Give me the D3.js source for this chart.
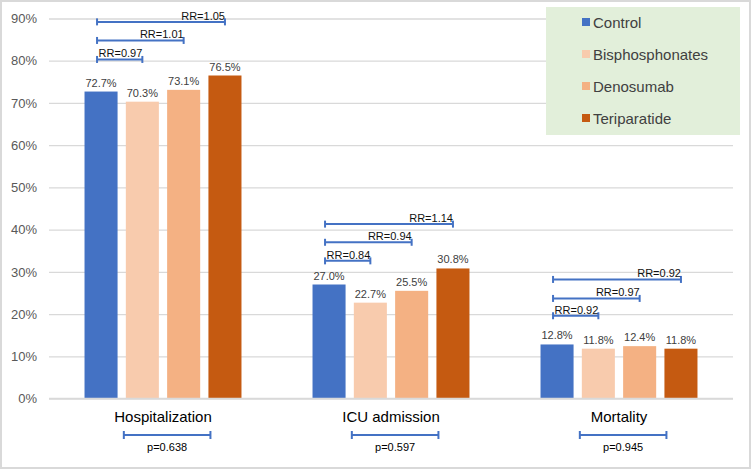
<!DOCTYPE html>
<html>
<head>
<meta charset="utf-8">
<script src="https://cdn.jsdelivr.net/npm/d3@7"></script>
<style>
  html, body { margin: 0; padding: 0; background: #fff; }
  svg { display: block; font-family: "Liberation Sans", Arial, sans-serif; }
</style>
</head>
<body>
<svg id="chart" width="752" height="470"></svg>
<script>
// ---- data ----
const categories = ["Hospitalization", "ICU admission", "Mortality"];
const seriesNames = ["Control", "Bisphosphonates", "Denosumab", "Teriparatide"];
const controlValues = [72.7, 27.0, 12.8];
const bisphosphonatesValues = [70.3, 22.7, 11.8];
const denosumabValues = [73.1, 25.5, 12.4];
const teriparatideValues = [76.5, 30.8, 11.8];
const yTicks = [0, 10, 20, 30, 40, 50, 60, 70, 80, 90];
const seriesColors = ["#4472C4", "#F8CBAD", "#F4B183", "#C55A11"];
// RR brackets: comparison of Control vs series 1,2,3 within each category
const rrLabels = [
  ["RR=0.97", "RR=1.01", "RR=1.05"],
  ["RR=0.84", "RR=0.94", "RR=1.14"],
  ["RR=0.92", "RR=0.97", "RR=0.92"]
];
const rrLevels = [
  [80.3, 84.8, 89.2],
  [32.6, 37.0, 41.3],
  [19.6, 23.7, 28.2]
];
const pValues = ["p=0.638", "p=0.597", "p=0.945"];

const seriesValues = [controlValues, bisphosphonatesValues, denosumabValues, teriparatideValues];

// ---- layout ----
const W = 752, H = 470;
const plot = { left: 49, right: 733, top: 18.5, bottom: 398.5 };
const svg = d3.select("#chart");

// outer border
svg.append("rect").attr("x", 1).attr("y", 1).attr("width", W - 3).attr("height", H - 3)
  .attr("fill", "#fff").attr("stroke", "#d9d9d9").attr("stroke-width", 2);

const x = d3.scaleBand().domain(categories).range([plot.left, plot.right]).paddingInner(0).paddingOuter(0);
const xi = d3.scaleBand().domain(d3.range(seriesNames.length)).range([0, x.bandwidth()])
  .paddingInner(0.2).paddingOuter(0.86);
const y = d3.scaleLinear().domain([0, 90]).range([plot.bottom, plot.top]);

// gridlines + y axis
const yAxis = d3.axisLeft(y).tickValues(yTicks).tickFormat(d => d + "%")
  .tickSize(-(plot.right - plot.left)).tickPadding(12);
const ya = svg.append("g").attr("transform", `translate(${plot.left},0)`).call(yAxis);
ya.select(".domain").remove();
ya.selectAll(".tick line").attr("stroke", "#d9d9d9").attr("stroke-width", 1.3);
ya.selectAll(".tick text").attr("fill", "#595959").attr("font-size", 13).attr("x", -12)
  .attr("font-family", "Liberation Sans, Arial, sans-serif");

// legend (drawn over gridlines)
const legend = svg.append("g");
legend.append("rect").attr("x", 546).attr("y", 7).attr("width", 194).attr("height", 128).attr("fill", "#E2EFDA");
seriesNames.forEach((name, i) => {
  const cy = 22 + i * 32;
  legend.append("rect").attr("x", 582).attr("y", cy - 4).attr("width", 8).attr("height", 8).attr("fill", seriesColors[i]);
  legend.append("text").attr("x", 593).attr("y", cy + 5.5).attr("font-size", 15).attr("fill", "#404040").text(name);
});

// bars
const groups = svg.append("g").selectAll("g").data(categories).join("g")
  .attr("transform", d => `translate(${x(d)},0)`);
seriesNames.forEach((name, s) => {
  groups.append("rect")
    .attr("x", xi(s)).attr("width", xi.bandwidth())
    .attr("y", (d, c) => y(seriesValues[s][c]))
    .attr("height", (d, c) => y(0) - y(seriesValues[s][c]))
    .attr("fill", seriesColors[s]);
  groups.append("text")
    .attr("x", xi(s) + xi.bandwidth() / 2)
    .attr("y", (d, c) => y(seriesValues[s][c]) - 5)
    .attr("text-anchor", "middle").attr("font-size", 11).attr("fill", "#404040")
    .text((d, c) => d3.format(".1f")(seriesValues[s][c]) + "%");
});

// baseline
svg.append("line").attr("x1", plot.left).attr("x2", plot.right).attr("y1", y(0)).attr("y2", y(0))
  .attr("stroke", "#d9d9d9").attr("stroke-width", 1.5);

// RR brackets
const bracketColor = "#4472C4";
function bracket(g, x1, x2, yy, cap) {
  g.append("line").attr("x1", x1).attr("x2", x2).attr("y1", yy).attr("y2", yy)
    .attr("stroke", bracketColor).attr("stroke-width", 2);
  [x1, x2].forEach(xx => g.append("line").attr("x1", xx).attr("x2", xx)
    .attr("y1", yy - cap).attr("y2", yy + cap).attr("stroke", bracketColor).attr("stroke-width", 2));
}
groups.each(function(cat, c) {
  const g = d3.select(this);
  const x1 = xi(0) + xi.bandwidth() / 2 - 4;
  rrLabels[c].forEach((lab, k) => {
    const x2 = xi(k + 1) + xi.bandwidth() / 2;
    const yy = y(rrLevels[c][k]);
    bracket(g, x1, x2, yy, 3.5);
    g.append("text").attr("x", x2).attr("y", yy - 2).attr("text-anchor", "end")
      .attr("font-size", 11).attr("fill", "#111").text(lab);
  });
});

// category labels
groups.append("text").attr("x", x.bandwidth() / 2).attr("y", 422)
  .attr("text-anchor", "middle").attr("font-size", 15).attr("fill", "#000").text(d => d);

// p-value brackets
groups.each(function(cat, c) {
  const g = d3.select(this);
  const x1 = xi(1) - 2;
  const x2 = xi(3) + 2;
  bracket(g, x1, x2, 435, 4);
  g.append("text").attr("x", (x1 + x2) / 2).attr("y", 451).attr("text-anchor", "middle")
    .attr("font-size", 11).attr("fill", "#000").text(pValues[c]);
});
</script>
</body>
</html>
